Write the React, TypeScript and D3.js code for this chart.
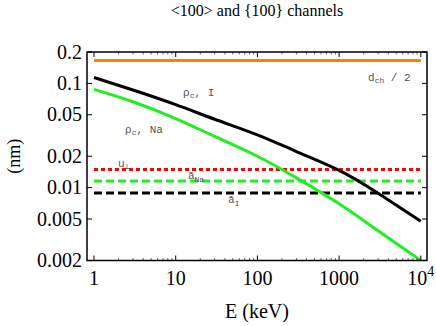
import React, { useEffect, useRef } from 'react';
import * as d3 from 'd3';

const energies = [1, 3, 10, 30, 100, 300, 1000, 3000, 10000];
// rho_c for I (black) and Na (green), nm
const rhoI = [0.114, 0.0865, 0.0626, 0.0453, 0.0321, 0.0222, 0.01466, 0.00884, 0.00475];
const rhoNa = [0.0877, 0.0666, 0.0459, 0.031, 0.02, 0.0124, 0.007, 0.00385, 0.002];

// constant levels (nm)
const levelNames = ['dch', 'u', 'aNa', 'aI'];
const levelValues = [0.166, 0.0149, 0.0116, 0.0089];
const levelColors = ['#ff8000', '#ff0000', '#22ee22', '#000000'];
const levelDash = ['none', '4,3', '8,4', '8,4'];

const xTicks = [1, 10, 100, 1000, 10000];
const yTicks = [0.002, 0.005, 0.01, 0.02, 0.05, 0.1, 0.2];

// inline annotations: [E, value] of the text baseline start
const labelPos = [
  [2258, 0.1053],
  [12.3, 0.0755],
  [2.4, 0.0333],
  [1.97, 0.0157],
  [14.1, 0.012],
  [43.7, 0.00706],
];

function App() {
  const svgRef = useRef<SVGSVGElement>(null);

  useEffect(() => {
    const svg = d3.select(svgRef.current);
    svg.selectAll('*').remove();

    const left = 87;
    const right = 427;
    const top = 52;
    const bottom = 260.5;

    const x = d3.scaleLog().domain([0.821, 11900]).range([left, right]);
    const y = d3.scaleLog().domain([0.002, 0.2]).range([bottom, top]);

    const serif = "'Liberation Serif', 'Times New Roman', Times, serif";
    const mono = "'Liberation Mono', 'DejaVu Sans Mono', monospace";

    // title
    svg
      .append('text')
      .attr('x', (left + right) / 2)
      .attr('y', 16)
      .attr('text-anchor', 'middle')
      .attr('font-family', serif)
      .attr('font-size', 16)
      .text('<100> and {100} channels');

    // horizontal levels
    levelValues.forEach((v, i) => {
      svg
        .append('line')
        .attr('class', 'level-' + levelNames[i])
        .attr('x1', x(1))
        .attr('x2', x(10000))
        .attr('y1', y(v))
        .attr('y2', y(v))
        .style('stroke', levelColors[i])
        .style('stroke-width', 3)
        .style('stroke-dasharray', levelDash[i]);
    });

    // rho_c curves
    const line = d3
      .line<number>()
      .x((d, i) => x(energies[i]))
      .y((d) => y(d))
      .curve(d3.curveNatural);

    svg
      .append('path')
      .attr('d', line(rhoNa))
      .style('fill', 'none')
      .style('stroke', '#22ee22')
      .style('stroke-width', 3);

    svg
      .append('path')
      .attr('d', line(rhoI))
      .style('fill', 'none')
      .style('stroke', '#000000')
      .style('stroke-width', 3);

    // frame
    svg
      .append('rect')
      .attr('x', left)
      .attr('y', top)
      .attr('width', right - left)
      .attr('height', bottom - top)
      .style('fill', 'none')
      .style('stroke', '#000')
      .style('stroke-width', 1.5);

    // x ticks, major + minor, bottom and top
    const minor: number[] = [];
    for (let d = 1; d < 10000; d *= 10) {
      for (let k = 2; k < 10; k++) minor.push(d * k);
    }
    const tickG = svg.append('g').style('stroke', '#000');
    xTicks.forEach((t) => {
      tickG.append('line').attr('x1', x(t)).attr('x2', x(t)).attr('y1', bottom).attr('y2', bottom - 5).style('stroke-width', 1);
      tickG.append('line').attr('x1', x(t)).attr('x2', x(t)).attr('y1', top).attr('y2', top + 5).style('stroke-width', 1);
    });
    minor.forEach((t) => {
      tickG.append('line').attr('x1', x(t)).attr('x2', x(t)).attr('y1', bottom).attr('y2', bottom - 2.5).style('stroke-width', 0.6);
      tickG.append('line').attr('x1', x(t)).attr('x2', x(t)).attr('y1', top).attr('y2', top + 2.5).style('stroke-width', 0.6);
    });
    yTicks.forEach((t) => {
      tickG.append('line').attr('x1', left).attr('x2', left + 5).attr('y1', y(t)).attr('y2', y(t)).style('stroke-width', 1);
      tickG.append('line').attr('x1', right).attr('x2', right - 5).attr('y1', y(t)).attr('y2', y(t)).style('stroke-width', 1);
    });

    // x tick labels
    xTicks.forEach((t) => {
      const txt = svg
        .append('text')
        .attr('x', x(t))
        .attr('y', 285)
        .attr('text-anchor', 'middle')
        .attr('font-family', serif)
        .attr('font-size', 20);
      if (t === 10000) {
        txt.append('tspan').text('10');
        txt.append('tspan').attr('dy', -9).attr('font-size', 14).text('4');
      } else {
        txt.text(String(t));
      }
    });

    // y tick labels
    yTicks.forEach((t) => {
      svg
        .append('text')
        .attr('x', left - 5)
        .attr('y', y(t) + 6.5)
        .attr('text-anchor', 'end')
        .attr('font-family', serif)
        .attr('font-size', 20)
        .text(String(t));
    });

    // axis titles
    svg
      .append('text')
      .attr('x', (left + right) / 2)
      .attr('y', 318)
      .attr('text-anchor', 'middle')
      .attr('font-family', serif)
      .attr('font-size', 20)
      .text('E (keV)');

    svg
      .append('text')
      .attr('transform', `translate(20, ${(top + bottom) / 2}) rotate(-90)`)
      .attr('text-anchor', 'middle')
      .attr('font-family', serif)
      .attr('font-size', 18)
      .text('(nm)');

    // inline labels
    const lab = (i: number) =>
      svg
        .append('text')
        .attr('x', x(labelPos[i][0]))
        .attr('y', y(labelPos[i][1]))
        .attr('font-family', mono)
        .attr('font-size', 11)
        .attr('fill', '#555');

    const sub = (t: any, s: string, dy: number) =>
      t.append('tspan').attr('dy', dy).attr('font-size', 8).text(s);

    let t = lab(0);
    t.append('tspan').text('d');
    sub(t, 'ch', 2);
    t.append('tspan').attr('dy', -2).text(' / 2');

    t = lab(1);
    t.append('tspan').text('ρ');
    sub(t, 'c', 2);
    t.append('tspan').attr('dy', -2).text(',  I');

    t = lab(2);
    t.append('tspan').text('ρ');
    sub(t, 'c', 2);
    t.append('tspan').attr('dy', -2).text(',  Na');

    t = lab(3);
    t.append('tspan').text('u');
    sub(t, '⊥', 2);

    t = lab(4);
    t.append('tspan').text('ā');
    sub(t, 'Na', 3);

    t = lab(5);
    t.append('tspan').text('ā');
    sub(t, 'I', 3);
  }, []);

  return (
    <svg
      ref={svgRef}
      width={436}
      height={326}
      style={{ position: 'absolute', left: 0, top: 0, background: '#fff' }}
    />
  );
}

export default App;
